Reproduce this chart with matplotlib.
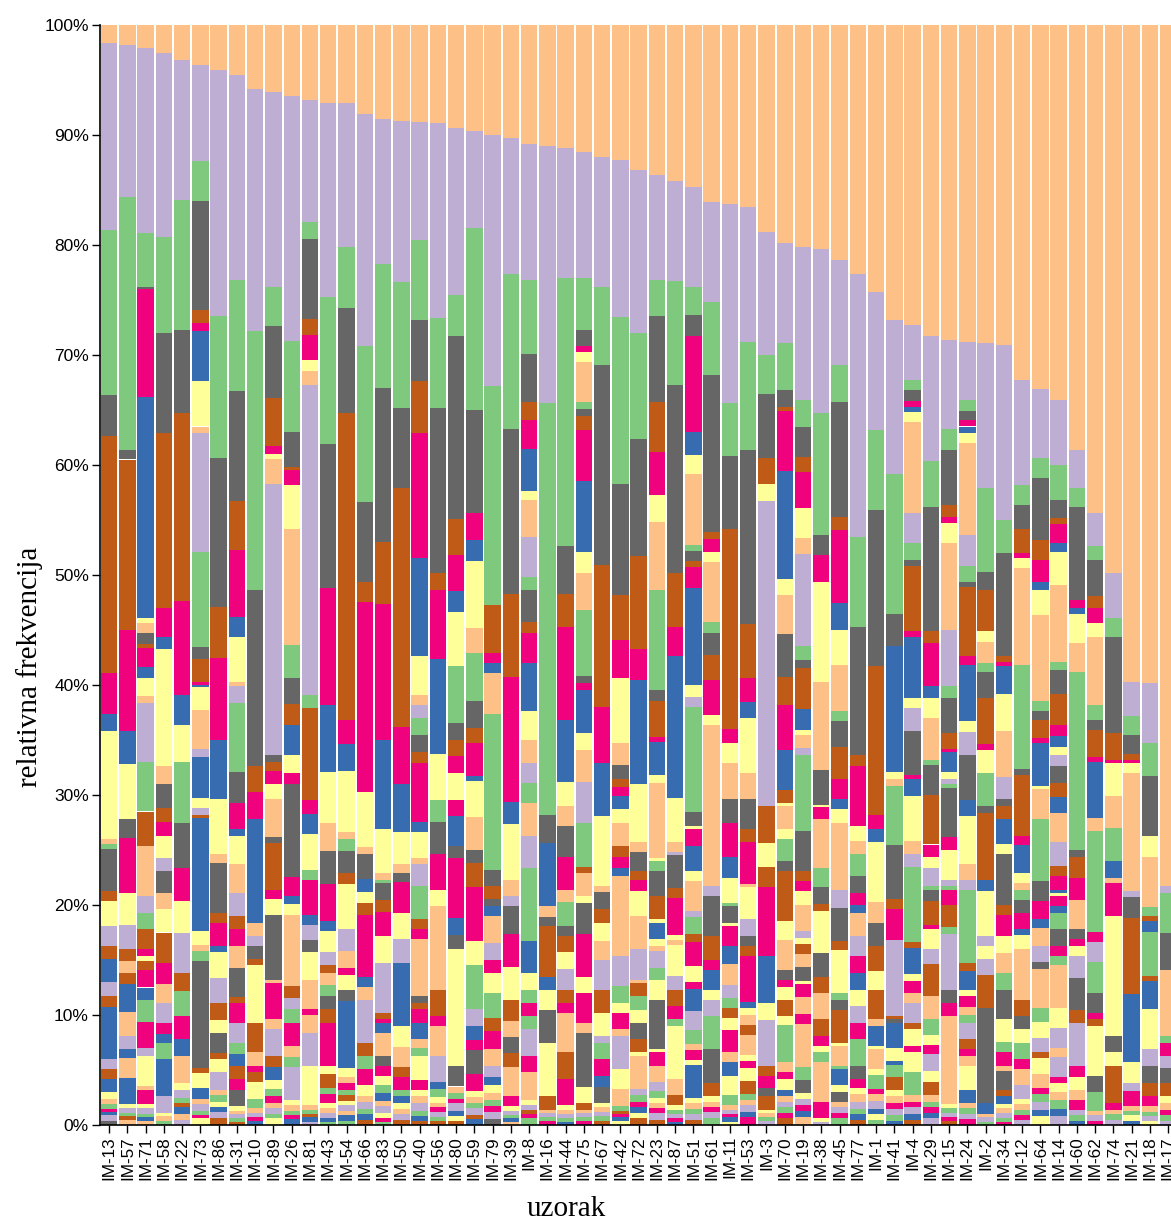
import matplotlib
matplotlib.use("Agg")
import matplotlib.pyplot as plt
import numpy as np

# sample names along the x axis
samples = ["IM-13", "IM-57", "IM-71", "IM-58", "IM-22", "IM-73", "IM-86", "IM-31", "IM-10", "IM-89",
           "IM-26", "IM-81", "IM-43", "IM-54", "IM-66", "IM-83", "IM-50", "IM-40", "IM-56", "IM-80",
           "IM-59", "IM-79", "IM-39", "IM-8", "IM-16", "IM-44", "IM-75", "IM-67", "IM-42", "IM-72",
           "IM-23", "IM-87", "IM-51", "IM-61", "IM-11", "IM-53", "IM-3", "IM-70", "IM-19", "IM-38",
           "IM-45", "IM-77", "IM-1", "IM-41", "IM-4", "IM-29", "IM-15", "IM-24", "IM-2", "IM-34",
           "IM-12", "IM-64", "IM-14", "IM-60", "IM-62", "IM-74", "IM-21", "IM-18", "IM-17"]

# colour code -> Accent palette
palette = {"o": "#fdc086", "p": "#beaed4", "g": "#7fc97f", "k": "#666666",
           "b": "#bf5b17", "m": "#f0027f", "u": "#386cb0", "y": "#ffff99"}

# relative frequency (%) of each taxon, stacked from the top of the bar down
stacks = [
    "o1.6 p17.0 g15.0 k3.8 b21.5 m3.7 u1.6 y9.8 o0.5 g0.4 k3.8 b0.9 y2.3 p1.8 b1.2 u2.1 p1.3 b1.0 u4.7 p0.9 b0.9 u1.2 y0.6 o0.5 g0.4 m0.3 u0.3 p0.5 k0.4",
    "o1.8 p13.8 g23.0 k0.9 b15.5 m9.2 u3.0 y5.0 k1.7 m5.0 y2.9 p2.2 b1.1 o1.1 b1.0 u2.5 o2.2 p1.2 u0.8 o1.8 u2.4 y0.4 p0.4 g0.3 b0.3 o0.5",
    "o2.1 p16.8 g4.9 k0.2 m9.8 u20.1 y0.5 o0.9 k1.0 b0.3 m1.8 u1.0 y1.6 o0.6 p5.4 g4.5 b3.1 o4.6 p1.5 g1.5 b1.8 m0.6 y0.5 b0.8 m1.6 u1.1 g2.0 m2.4 p0.7 y2.8 o0.3 m1.3 y0.4 p0.5 g0.3 u0.3 o0.4",
    "o2.5 p16.8 g8.7 k9.1 b15.9 m2.6 u1.1 y10.7 o1.6 k2.2 b1.3 m1.2 y2.0 p1.2 k2.0 o1.5 y2.1 b2.8 m1.9 o1.7 p1.8 m1.0 u0.8 g1.5 u3.4 p1.5 y0.3 o0.4 g0.4",
    "o3.2 p12.7 g11.8 k7.6 b17.1 m8.5 u2.7 y3.4 g5.5 k4.1 m3.0 y2.9 p3.7 b1.6 g2.3 m2.1 u1.5 o2.5 y0.6 p0.7 g0.5 b0.4 u0.6 o0.5 p0.5",
    "o3.6 p8.8 g3.6 k9.9 b1.2 m0.7 u4.6 y4.1 o0.6 p10.8 g8.6 k1.1 b2.1 m0.3 u0.2 y2.1 o3.5 p0.7 u3.8 y0.9 p0.6 b0.3 u10.3 y1.2 o0.6 g0.9 k9.7 b0.5 y1.3 u1.0 o0.5 p0.6 g0.4 m0.3 y0.6",
    "o4.1 p22.4 g12.9 k13.6 b4.7 m7.4 u5.4 y5.0 o0.8 k4.6 b0.9 m2.1 u0.5 y2.4 p2.3 b1.5 y1.2 k1.8 b0.6 y1.2 p1.6 o0.5 g0.6 y0.5 u0.4 p0.6 b0.6",
    "o4.5 p18.7 g10.1 k10.0 b4.4 m6.1 u1.8 y4.1 o0.4 p1.5 g6.3 k2.8 m2.4 u0.6 y2.6 o2.6 p2.1 b1.2 m1.5 o2.0 k2.7 b0.5 m1.8 p1.8 g1.0 u1.1 b1.2 m1.0 k1.5 y0.4 o0.3 p0.4 g0.3 b0.3",
    "o5.8 p22.0 g23.6 k16.0 b2.3 m2.5 u9.4 o1.2 p0.9 k1.2 b0.6 y5.2 b2.7 o1.2 m0.6 b0.9 y1.5 g0.9 o0.4 p0.4 m0.3 u0.4",
    "o6.1 p17.7 g3.6 k6.5 b4.4 m0.7 y0.5 o2.2 p24.7 k0.6 b0.8 m1.2 y1.4 o3.4 k0.6 b4.2 m0.9 y1.4 k5.9 o0.3 m3.3 o0.9 p2.4 b1.0 u1.2 y0.8 g0.7 m0.6 o0.5 p0.5 g0.4 y0.6",
    "o6.5 p22.2 g8.3 k3.2 b0.3 m1.3 y4.0 o10.6 g3.0 k2.3 b1.9 u2.8 y1.6 m1.0 k8.5 m1.7 u0.7 y1.0 o6.5 b1.1 p1.0 g1.2 m2.1 o1.0 g0.9 p3.0 y0.5 o0.5 g0.4 m0.4 u0.5",
    "o6.8 p11.1 g1.6 k7.2 b1.5 m2.3 y1.0 o1.2 p28.2 g1.2 b8.4 m1.2 u1.8 y3.3 g0.9 m3.2 u0.9 p1.4 k1.1 y2.5 o2.7 m0.5 o1.6 p3.0 y3.6 o0.4 g0.4 b0.3 u0.4 p0.3",
    "o7.1 p17.6 g13.4 k13.1 m10.6 u6.1 y4.6 o2.6 k3.0 m3.4 u0.9 y1.9 p1.2 b0.7 o1.1 g1.0 k1.2 b1.2 m3.9 y0.8 b1.2 g0.6 m0.8 y0.5 o0.4 p0.5 u0.3 g0.3",
    "o7.1 p13.1 g5.5 k9.6 b27.9 m2.2 u2.4 y5.6 o0.6 g1.1 k2.0 b1.0 y4.1 p2.0 o1.5 m0.7 y1.3 k1.0 u6.1 y0.8 o0.6 m0.6 g0.5 b0.5 y0.4 p0.5 o0.4 u0.5 g0.4",
    "o8.1 p21.1 g14.2 k7.3 b1.8 m17.3 y5.0 o0.6 k2.3 u1.2 y1.0 b1.1 m5.6 u0.9 o1.2 p3.9 b1.2 g1.2 m1.5 y1.0 o0.5 p0.6 g0.5 u0.5 b0.5",
    "o8.5 p13.2 g11.3 k14.0 b5.6 m12.4 u8.1 y4.0 o0.6 g0.3 k1.5 b1.1 m2.2 y2.5 p4.5 b0.6 m0.3 u0.9 o2.1 k0.9 m0.9 y0.9 g0.7 u0.7 o0.5 p0.6 y0.5 m0.3 g0.3",
    "o8.7 p14.7 g11.4 k7.3 b21.7 m5.2 u4.4 y2.9 o0.8 k0.8 m2.8 y2.4 p2.2 u5.7 y1.9 o1.8 b0.9 m1.2 g0.6 u0.6 y0.5 o0.5 p0.5 b0.5",
    "o8.8 p10.7 g7.3 k5.6 b4.7 m11.4 u8.9 y3.5 o0.9 p1.2 g1.5 k1.6 b1.0 m5.4 u0.9 y2.3 o0.6 p2.0 g3.0 b0.9 m0.9 o5.2 k0.6 b0.6 m1.2 u1.5 o0.8 g0.7 y2.2 m0.9 y0.6 o0.6 p0.7 g0.5 u0.4 b0.4",
    "o8.9 p17.7 g8.2 k15.0 b1.6 m6.2 u8.7 y4.2 g2.0 k2.9 m3.2 y1.5 o7.6 b2.4 m0.9 o2.7 p2.4 u0.6 g0.8 y0.5 o0.4 m0.4 p0.5 g0.3 b0.4",
    "o9.4 p15.1 g3.8 k16.6 b3.3 m3.3 u1.9 y4.9 g5.2 k1.5 b1.5 m1.5 y2.5 m1.4 u2.7 k1.1 m5.5 u1.5 k1.3 y10.6 k1.9 o0.6 g0.5 m0.4 p0.7 u0.5 y0.4 b0.4",
    "o9.6 p8.8 g16.6 k9.3 m2.5 u1.9 y6.1 o2.2 g4.4 k2.4 b1.4 m3.0 u0.5 y3.2 o3.0 k1.2 b2.2 m4.9 y2.2 g4.0 p1.5 u1.3 m0.9 k2.2 m1.5 y0.6 o0.5 g0.5 p0.6 b0.4 u0.5",
    "o10.0 p22.8 g19.9 b4.4 m0.9 u0.9 o3.7 g14.2 k1.5 b1.2 k0.6 u0.9 o2.5 p1.5 m1.2 y1.8 g2.3 b1.2 m1.6 o1.5 p1.0 u0.8 y0.7 o0.6 g0.6 m0.5 p0.7 k0.5",
    "o10.3 p12.3 g14.1 k15.0 b7.6 m11.3 u2.0 y5.1 o1.5 p0.9 k2.5 m3.0 y3.0 b1.9 o1.5 k1.5 b1.2 o2.7 m0.9 y0.4 p0.4 g0.3 u0.3 o0.3",
    "o10.8 p12.4 g6.7 k4.4 b1.6 m2.6 u3.9 y0.8 o3.3 p3.7 g1.2 k2.9 b1.0 m2.7 u4.4 y2.6 o2.1 p1.8 g1.8 o3.0 p2.9 g6.7 u2.9 y1.5 g1.2 m1.2 g1.2 p2.4 m1.5 o2.5 y0.5 p0.4 b0.4 m0.4 g0.6",
    "o11.0 p23.4 g37.4 k2.6 u5.7 o1.0 k0.8 b4.6 u1.2 y1.8 k3.0 y4.9 b1.2 o0.3 p0.4 g0.3 m0.4",
    "o11.2 p11.8 g24.4 k4.3 b3.0 m8.5 u5.6 y2.2 o1.8 k2.8 m3.0 o1.1 g2.2 k0.9 b1.5 y1.5 p1.9 b1.2 m0.9 o3.6 b2.4 m2.4 y0.4 o0.4 p0.4 g0.3 u0.3",
    "o11.5 p11.5 g4.7 k1.5 m0.5 y0.9 o3.7 g0.6 k0.6 b1.3 m4.7 u6.4 y1.9 o3.4 g6.0 k0.6 m0.7 u3.9 y1.5 o2.9 p3.7 g4.0 b0.6 o2.1 y0.6 k2.8 m3.9 y1.5 m2.7 o0.9 k4.9 y1.5 b0.6 o0.3 p0.4 g0.3 m0.4",
    "o12.0 p11.8 g7.1 k18.2 b12.9 m5.1 u4.8 y6.4 o0.5 k1.6 b1.2 y1.7 o1.7 p2.7 b2.1 y2.1 p0.6 g1.5 m1.5 u1.0 k1.5 y0.4 o0.4 p0.4 g0.4 b0.4",
    "o12.3 p14.2 g15.2 k10.1 b4.1 m3.5 y5.9 o2.0 k1.2 b0.8 m0.8 u1.2 y1.2 o2.1 b1.0 m1.0 u0.8 o7.2 p2.8 g1.5 y0.9 m1.5 o0.6 p3.0 y1.8 o1.6 g0.4 b0.3 m0.3 u0.3 y0.4",
    "o13.2 p14.8 g9.6 k10.7 b8.4 m2.8 u9.5 y5.3 o0.9 k1.7 b0.8 m1.0 y2.3 o3.0 p2.8 o0.3 b1.2 g1.2 y1.2 k1.5 b1.2 y0.3 o3.0 p0.6 g0.6 m0.5 u0.5 y0.5 b0.6",
    "o13.6 p9.6 g3.3 k7.8 b4.5 m3.9 y2.5 o6.2 g9.1 k1.0 b3.2 m0.5 u3.0 y0.7 o6.8 y0.3 g0.9 k2.3 b2.1 y0.3 u1.5 y0.6 o0.5 p1.5 g1.1 y1.8 k4.5 y0.3 m1.2 o1.5 p0.8 g0.6 y0.5 o0.5 m0.4 p0.6 b0.5",
    "o14.2 p9.1 g9.4 k17.1 b4.9 m2.7 u12.9 y4.0 o0.9 p0.3 k3.0 b0.9 m3.3 y0.5 o0.4 y2.9 p1.2 b1.5 m1.2 g0.6 y4.8 o1.5 b0.9 y0.4 g0.4 p0.4 m0.3 u0.3",
    "o14.7 p9.1 g2.6 k1.9 m8.7 u2.1 y1.7 o6.5 g0.5 k0.9 b0.6 m1.9 u8.8 y1.1 p0.9 g9.5 k1.3 y0.3 m1.5 u2.3 y0.9 o2.7 p0.6 g1.5 b0.8 m2.1 y1.5 m0.6 u2.0 p1.8 g1.2 o0.6 m0.9 y0.4 u3.0 y0.5 o0.5 g0.5 p0.5 b0.5",
    "o16.1 p9.1 g6.6 k14.3 b0.6 m1.2 y0.9 o5.5 g1.0 k2.0 b2.2 m3.2 y0.9 o14.7 p0.9 k3.6 b2.2 m0.9 u1.8 y0.9 p1.5 g3.0 k3.1 b1.2 y0.5 o0.5 m0.4 p0.6 g0.6",
    "o16.3 p18.1 g4.8 k6.6 b18.2 m1.3 y1.8 o3.3 k2.1 m3.1 u1.9 y2.3 g0.3 k1.5 y0.3 m1.8 u1.7 o1.9 p1.2 g0.9 b0.9 y1.1 m2.0 o0.9 u1.2 y1.8 g0.9 o0.4 p0.4 m0.3 u0.4 y0.3",
    "o16.5 p12.3 g9.8 k15.9 b4.9 m2.1 u1.5 y5.0 o2.4 k2.7 b1.2 m3.8 o0.3 y2.9 p1.5 k0.9 b0.9 m4.2 u0.6 y0.6 o0.9 b0.9 o1.8 y0.6 m0.6 y1.2 b1.2 g0.5 o0.5 p0.6 u0.5 m0.7",
    "o18.8 p11.2 g3.6 k5.8 b2.4 y1.5 p27.8 b3.3 y2.2 b1.8 m6.3 u4.3 y1.5 p4.2 b0.9 m1.1 k0.8 b1.2 y0.3 o0.4 g0.3 p0.4",
    "o19.8 p9.1 g4.3 k1.6 b0.3 m5.5 u9.8 y1.5 o3.5 k3.9 b2.6 m4.1 u3.6 b1.2 y0.3 o2.1 y0.9 g2.0 k0.9 b4.5 y1.8 o2.7 k0.9 m0.6 y1.2 b1.5 y0.8 g3.4 o0.9 m0.6 y1.0 u0.6 o0.5 p0.5 g0.5 m0.5 b0.6",
    "o20.1 p13.9 g2.5 k2.7 b1.4 m3.2 y2.7 o1.5 p8.3 g1.3 k0.7 b3.8 u1.9 y0.4 o1.2 p0.6 g6.9 k3.7 b0.9 m0.9 y1.2 o2.4 p0.6 y0.6 b0.9 o1.2 k1.2 y0.3 m1.2 o1.5 m0.9 o3.9 g1.2 k1.2 y0.5 p0.6 m0.5 u0.6 o0.7",
    "o20.4 p14.9 g11.1 k1.8 m2.4 y9.1 o8.0 k3.2 y0.2 m1.1 o4.4 g1.8 k1.5 b0.6 y3.9 k2.1 b1.5 o2.4 b1.5 m0.9 y0.6 g0.9 o3.6 m1.5 y0.3 p0.3",
    "o21.4 p9.5 g3.4 k10.4 b1.2 m6.6 u2.5 y3.2 o4.2 g0.9 k2.3 b2.9 m1.9 u0.9 y1.2 o6.1 p1.7 k3.0 b0.8 y3.9 g0.6 k0.9 b3.0 y0.3 o1.8 g0.3 u1.5 y0.6 k0.9 o0.5 p0.5 m0.5 g0.6",
    "o22.6 p23.9 g8.2 k11.7 b1.0 m5.4 y1.4 o1.2 g2.0 k1.5 m1.1 u0.7 o2.1 p1.8 m1.6 u1.5 y1.5 p1.5 m1.5 g2.4 k1.2 m0.8 y0.6 o0.7 p0.6 g0.5 u0.5 b0.5",
    "o24.3 p12.5 g7.3 k14.2 b13.5 m1.3 u1.2 y5.4 o1.9 k2.1 b2.3 y1.7 b2.7 o0.6 u1.8 y0.3 o1.8 y0.6 g1.2 m0.5 o0.6 p0.7 u0.5 y0.5 g0.5",
    "o26.8 p14.0 g12.7 k3.0 u11.4 y0.6 o0.7 g5.3 k5.0 b0.9 m2.8 p6.9 b0.3 k0.3 u2.3 y1.2 u0.3 g1.1 b1.2 y0.6 o0.6 m0.5 p0.6 g0.5 u0.4",
    "o27.3 p5.0 g0.9 k1.0 m0.5 u0.5 y0.9 o8.3 p2.7 g1.5 k0.6 b5.9 m0.5 u5.6 y0.9 p2.1 k4.0 m0.3 u1.6 y4.1 o1.2 p1.1 g6.9 b0.5 u2.4 y0.6 m1.1 o0.9 p1.8 b0.6 y1.5 m0.6 y1.8 g2.1 o0.6 m0.5 p0.6 u0.5 b0.5",
    "o28.3 p11.3 g4.2 k11.3 b1.1 m3.9 u1.1 y1.8 o3.8 g0.5 k2.7 b4.5 m1.1 y1.0 p1.7 g0.3 k1.0 b2.2 m0.4 y1.8 p1.4 b2.9 o2.1 g1.4 y0.9 m0.8 p1.6 y1.0 b1.2 o0.6 g0.5 m0.5 u0.5 p0.6",
    "o28.6 p8.1 g1.9 k5.0 b1.1 m0.6 y1.8 o7.9 p5.1 g1.1 k3.2 b1.4 m0.3 u1.8 y0.6 p0.5 g0.4 k4.4 m1.2 y2.7 p0.6 g0.3 m1.4 b2.0 g0.6 p5.1 k1.2 m1.2 o8.0 y0.4 g0.4 p0.4 m0.3 b0.4",
    "o28.8 p5.3 g1.0 k0.8 m0.6 u0.6 y0.9 o8.4 p2.8 g1.4 k0.5 b6.3 m0.8 u5.1 y1.0 p2.1 k4.1 u1.4 y4.4 o1.4 p0.9 g6.7 b0.7 u1.7 y0.6 m1.0 o0.7 g0.7 p1.5 b0.9 m0.6 o0.9 y2.2 u1.2 o0.5 g0.5 p0.5 m0.5",
    "o28.9 p13.2 g7.6 k1.7 b3.7 y1.0 o1.9 g0.8 k2.4 b4.2 m0.5 y2.1 g3.0 k0.6 b6.1 u1.0 y4.1 p0.9 y1.2 p1.5 b3.0 k8.6 u1.0 o0.3 p0.4 g0.3",
    "o29.1 p15.9 g3.0 k9.4 b0.5 m0.4 u2.5 y3.4 o4.2 p2.0 k0.6 b1.2 u2.3 y0.9 k4.6 b0.9 m1.9 y1.6 o1.8 g1.5 k2.7 y2.1 g0.9 m1.2 o0.5 k1.7 b0.6 u0.7 y0.4 o0.4 p0.5 g0.3 m0.3",
    "o32.3 p9.5 g1.8 k2.2 b2.2 m0.5 y0.9 o8.8 g9.4 k0.6 b5.5 m0.8 u2.6 y0.9 o0.6 g0.9 k1.2 m1.5 u0.5 y1.3 o4.6 b1.5 k1.2 y1.2 g1.5 m0.9 o1.5 p1.2 y0.5 o0.5 g0.5 m0.4 p0.5",
    "o33.1 p6.3 g1.8 k5.6 b1.8 m2.0 u0.8 y2.2 o7.9 g0.9 k0.8 b1.6 m0.5 u3.9 y0.3 o2.7 g5.6 k1.8 m1.7 u0.8 o1.6 p1.5 k0.6 o3.6 g1.2 y1.5 p1.3 b0.5 y1.5 o1.2 m0.6 g0.7 p0.7 u0.6 y0.8",
    "o34.1 p5.9 g3.2 k1.6 b0.6 m1.7 u0.8 y3.0 o7.0 g0.7 k2.2 b2.8 m1.0 u1.0 y0.8 p1.0 k1.5 b1.3 u1.4 o2.7 p2.2 b0.9 m1.2 u0.3 y0.3 m0.9 u0.6 g1.5 k1.5 m0.9 g0.9 o3.9 y1.8 p1.8 o0.8 p1.8 m0.6 y0.8 o0.7 g0.8 u0.7 p0.8",
    "o38.6 p3.5 g1.7 k8.5 m0.7 u0.5 y2.7 o2.6 g16.2 k0.6 b1.9 m2.0 o2.7 k0.9 m0.6 y0.9 p2.0 k2.9 b1.2 p3.9 m1.0 y1.2 o0.9 m0.9 p0.5 g0.5 u0.4",
    "o44.4 p3.0 g1.2 k3.3 b1.1 m1.4 y1.2 o6.2 g1.4 k0.9 b2.4 m0.5 u5.1 o1.2 g9.2 m0.9 p1.8 g2.8 k1.8 m0.6 b0.6 y4.5 k1.5 g1.7 o0.4 p0.5 m0.4",
    "o49.8 p4.1 g1.7 k8.8 b2.4 m0.3 y3.0 o2.9 g3.0 u1.5 o0.5 m3.0 y10.9 k1.5 y1.2 b3.4 m0.6 o0.4 g0.5 p0.5",
    "o59.7 p3.1 g1.7 k1.8 b0.5 m0.3 y0.9 o10.7 p0.6 k1.9 b6.9 u6.2 y1.9 p0.7 m1.4 o0.4 g0.4 y0.5 u0.4",
    "o59.8 p5.5 g3.0 k5.4 y1.9 o4.6 g0.8 b0.5 u1.0 g4.0 b0.4 u2.6 y3.6 p1.5 k1.6 b1.2 m0.9 o0.5 g0.4 p0.4 y0.4",
    "o78.3 p0.6 g3.6 k3.4 o6.0 g0.6 m1.2 p1.1 k1.4 b1.2 y0.6 o0.6 m0.5 g0.5 p0.4",
]

W, H = 1171, 1222
fig = plt.figure(figsize=(W / 100, H / 100), dpi=100)
step = 18.26
ax = fig.add_axes([100 / W, 97 / H, step * len(samples) / W, 1100 / H])

xs, hs, bs, cs = [], [], [], []
for i, s in enumerate(stacks):
    toks = s.split()
    vals = np.array([float(t[1:]) for t in toks])
    vals = vals * 100.0 / vals.sum()
    top = 100.0
    for t, v in zip(toks, vals):
        xs.append(i)
        hs.append(v)
        bs.append(top - v)
        cs.append(palette[t[0]])
        top -= v

ax.bar(xs, hs, bottom=bs, width=0.9, color=cs, linewidth=0)

ax.set_xlim(-0.5, len(samples) - 0.5)
ax.set_ylim(0, 100)
ax.set_yticks(range(0, 101, 10))
ax.set_yticklabels([f"{v}%" for v in range(0, 101, 10)])
ax.set_xticks(range(len(samples)))
ax.set_xticklabels(samples, rotation=90)

lab_font = ["Liberation Sans", "DejaVu Sans"]
for lab in ax.get_yticklabels():
    lab.set_family(lab_font)
    lab.set_fontsize(12.5)
for lab in ax.get_xticklabels():
    lab.set_family(lab_font)
    lab.set_fontsize(12.3)
ax.tick_params(length=6, width=1, color="black", pad=2)

for side in ["top", "right"]:
    ax.spines[side].set_visible(False)
for side in ["left", "bottom"]:
    ax.spines[side].set_linewidth(1.2)
    ax.spines[side].set_color("black")

fig.text(30 / W, 1 - 667 / H, "relativna frekvencija", rotation=90, ha="center", va="center",
         family=["Liberation Serif", "DejaVu Serif"], fontsize=21)
fig.text(566 / W, 1 - 1209 / H, "uzorak", ha="center", va="center",
         family=["Liberation Serif", "DejaVu Serif"], fontsize=21)

fig.savefig("out.png", dpi=100)
